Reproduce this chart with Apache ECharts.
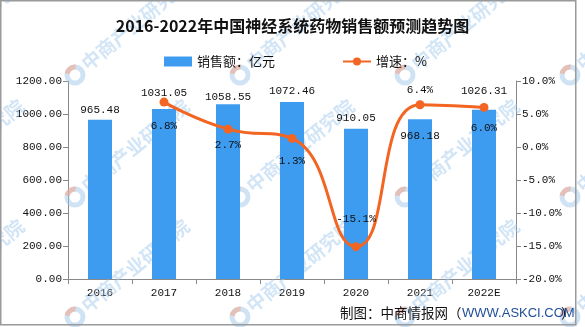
<!DOCTYPE html>
<html><head><meta charset="utf-8">
<script src="https://cdn.jsdelivr.net/npm/echarts@6/dist/echarts.min.js"></script>
<style>html,body{margin:0;padding:0;background:#fff}#c{width:585px;height:327px}</style>
</head><body><div id="c"></div>
<script>
var categories = ['2016','2017','2018','2019','2020','2021','2022E'];
var salesValues = [965.48, 1031.05, 1058.55, 1072.46, 910.05, 968.18, 1026.31];
var growthValues = [null, 6.8, 2.7, 1.3, -15.1, 6.4, 6.0];
var leftTicks = [0, 200, 400, 600, 800, 1000, 1200];
var rightTicks = [-20, -15, -10, -5, 0, 5, 10];

// label layout (pixel shifts, not data)
var barLabelShift = [-10, -16, -8, -11, -11, 16, -19];
var growthLabelShift = [0, 24, 16, 23, -28, -15, 21];

var mono = '"Liberation Mono", monospace';
var cjk = '"Noto Sans CJK SC", sans-serif';

var graphics = [{
  type: 'rect', shape: {x: 0.75, y: 0.75, width: 575, height: 324},
  style: {fill: 'none', stroke: '#9a9a9a', lineWidth: 1.5}, silent: true, z: 100
}, {
  type: 'text', x: 340, y: 313, z: 100,
  style: {text: '制图：中商情报网（', fill: '#111', font: '13.5px ' + cjk, textVerticalAlign: 'middle'}
}, {
  type: 'text', x: 462, y: 313, z: 100,
  style: {text: 'WWW.ASKCI.COM', fill: '#1F4E99', font: '13px "Liberation Sans", sans-serif', textVerticalAlign: 'middle'}
}, {
  type: 'text', x: 561, y: 313, z: 100,
  style: {text: '）', fill: '#111', font: '13.5px ' + cjk, textVerticalAlign: 'middle'}
}];
// watermark lattice (behind the series)
[-90, 75, 240, 405, 570].forEach(function(X){
  [75, 197, 317].forEach(function(Y){
    graphics.push({
      type: 'circle', shape: {cx: X, cy: Y, r: 8}, silent: true, z: 1,
      style: {fill: 'none', stroke: 'rgba(160,200,235,0.5)', lineWidth: 5}
    });
    graphics.push({
      type: 'arc', shape: {cx: X, cy: Y, r: 8, startAngle: 3.3, endAngle: 4.8}, silent: true, z: 1,
      style: {fill: 'none', stroke: 'rgba(245,165,135,0.55)', lineWidth: 5}
    });
    graphics.push({
      type: 'text', x: X + 9, y: Y - 9, rotation: 0.69, silent: true, z: 1,
      style: {text: '中商产业研究院', fill: 'rgba(165,203,238,0.5)', font: 'bold 19px ' + cjk,
        textAlign: 'left', textVerticalAlign: 'middle'}
    });
  });
});

var chart = echarts.init(document.getElementById('c'));
chart.setOption({
  animation: false,
  title: {
    text: '2016-2022年中国神经系统药物销售额预测趋势图',
    left: 'center', top: 13,
    textStyle: {fontSize: 16, fontWeight: 'bold', color: '#111', fontFamily: cjk}
  },
  legend: {
    top: 50, left: 159, itemGap: 67, itemWidth: 28, itemHeight: 10,
    textStyle: {fontSize: 13, color: '#111', fontFamily: cjk},
    data: [{name: '销售额：亿元', icon: 'rect'}, {name: '增速：%'}]
  },
  grid: {left: 68, right: 69, top: 81, bottom: 48},
  xAxis: {
    type: 'category', data: categories,
    axisLine: {lineStyle: {color: '#888'}},
    axisTick: {show: true, alignWithLabel: false, length: 5, lineStyle: {color: '#888'}},
    axisLabel: {color: '#111', fontSize: 11, fontFamily: mono, margin: 9}
  },
  yAxis: [{
    type: 'value', min: leftTicks[0], max: leftTicks[leftTicks.length-1], interval: 200,
    axisLine: {show: true, lineStyle: {color: '#888'}},
    axisTick: {show: true, length: 5, lineStyle: {color: '#888'}},
    splitLine: {show: false},
    axisLabel: {color: '#111', fontSize: 11, fontFamily: mono, margin: 6, formatter: function(v){return v.toFixed(2);}}
  }, {
    type: 'value', min: rightTicks[0], max: rightTicks[rightTicks.length-1], interval: 5,
    axisLine: {show: true, lineStyle: {color: '#888'}},
    axisTick: {show: true, length: 5, lineStyle: {color: '#888'}},
    splitLine: {show: false},
    axisLabel: {color: '#111', fontSize: 11, fontFamily: mono, margin: 6, formatter: function(v){return v.toFixed(1)+'%';}}
  }],
  series: [{
    name: '销售额：亿元', type: 'bar', barWidth: 24, z: 3,
    data: salesValues.map(function(v, i){
      return {value: v, label: {offset: [0, barLabelShift[i] + 6]}};
    }),
    itemStyle: {color: '#3E9CF0'},
    label: {show: true, position: 'top', distance: 0, color: '#111', fontSize: 11, fontFamily: mono,
      formatter: function(p){return p.value.toFixed(2);}}
  }, {
    name: '增速：%', type: 'line', yAxisIndex: 1, smooth: 0.5, z: 4,
    data: growthValues.map(function(v, i){
      return {value: v, label: {offset: [0, growthLabelShift[i]]}};
    }),
    lineStyle: {color: '#F26522', width: 3},
    itemStyle: {color: '#F26522'},
    symbol: 'circle', symbolSize: 9, showSymbol: true,
    label: {show: true, position: 'inside', color: '#111', fontSize: 11, fontFamily: mono,
      formatter: function(p){return p.value.toFixed(1)+'%';}}
  }],
  graphic: graphics
});
</script></body></html>
